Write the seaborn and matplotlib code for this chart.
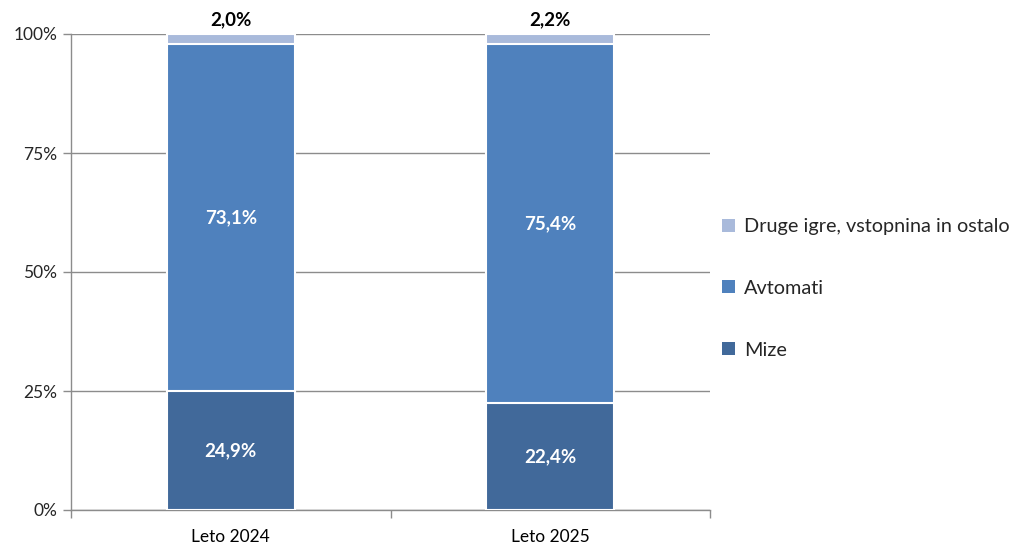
import pandas as pd
import seaborn as sns
import matplotlib.pyplot as plt
from matplotlib.patches import Patch
from matplotlib.ticker import FixedLocator, PercentFormatter

# data
years = ['Leto 2024', 'Leto 2025']
mize = [24.9, 22.4]
avtomati = [73.1, 75.4]
druge = [2.0, 2.2]
series = ['Mize', 'Avtomati', 'Druge igre, vstopnina in ostalo']
colors = ['#41699A', '#4F81BD', '#A9BADB']

sns.set_theme(style='white')
plt.rcParams['font.family'] = ['Lato', 'DejaVu Sans']

df = pd.DataFrame({'leto': years, 'mize': mize, 'avtomati': avtomati, 'druge': druge})
df['c1'] = df['mize']
df['c2'] = df['mize'] + df['avtomati']
df['c3'] = df['c2'] + df['druge']

fig = plt.figure(figsize=(10.15, 5.44), dpi=100)
ax = fig.add_axes([0.070, 0.0625, 0.6295, 0.875])

# stacked bars drawn from the top layer down
for col, c in zip(['c3', 'c2', 'c1'], colors[::-1]):
    sns.barplot(data=df, x='leto', y=col, color=c, width=0.40,
                edgecolor='white', linewidth=1.5, saturation=1, ax=ax, zorder=3)

# value labels
for i in range(len(years)):
    ax.text(i, mize[i] / 2, f"{mize[i]:.1f}".replace('.', ',') + '%',
            ha='center', va='center', color='white', fontsize=13.5, fontweight='bold', zorder=5)
    ax.text(i, mize[i] + avtomati[i] / 2, f"{avtomati[i]:.1f}".replace('.', ',') + '%',
            ha='center', va='center', color='white', fontsize=13.5, fontweight='bold', zorder=5)
    ax.text(i, 101.2, f"{druge[i]:.1f}".replace('.', ',') + '%',
            ha='center', va='bottom', color='black', fontsize=13.5, fontweight='bold', zorder=5)

ax.set_xlim(-0.5, 1.5)
ax.set_ylim(0, 100)
ax.yaxis.set_major_locator(FixedLocator([0, 25, 50, 75, 100]))
ax.yaxis.set_major_formatter(PercentFormatter(decimals=0))
ax.grid(axis='y', color='#8C8C8C', linewidth=1, zorder=0)
ax.set_axisbelow(True)
ax.set_xlabel('')
ax.set_ylabel('')

for s in ['top', 'right']:
    ax.spines[s].set_visible(False)
for s in ['left', 'bottom']:
    ax.spines[s].set_color('#8C8C8C')
    ax.spines[s].set_linewidth(1)

ax.xaxis.set_minor_locator(FixedLocator([-0.5, 0.5, 1.5]))
ax.tick_params(axis='x', which='major', length=0, pad=14, labelsize=12.5, colors='black')
ax.tick_params(axis='x', which='minor', bottom=True, length=6, color='#8C8C8C', width=1)
ax.tick_params(axis='y', left=True, length=6, color='#8C8C8C', width=1, labelsize=12.5, pad=4)

handles = [Patch(facecolor=c, edgecolor='none') for c in colors[::-1]]
fig.legend(handles, series[::-1], loc='center left', bbox_to_anchor=(0.7, 0.47),
           frameon=False, fontsize=14.3, handlelength=0.65, handleheight=0.65,
           handletextpad=0.45, labelspacing=2.25, borderaxespad=0.2)

fig.savefig('out.png', dpi=100)
